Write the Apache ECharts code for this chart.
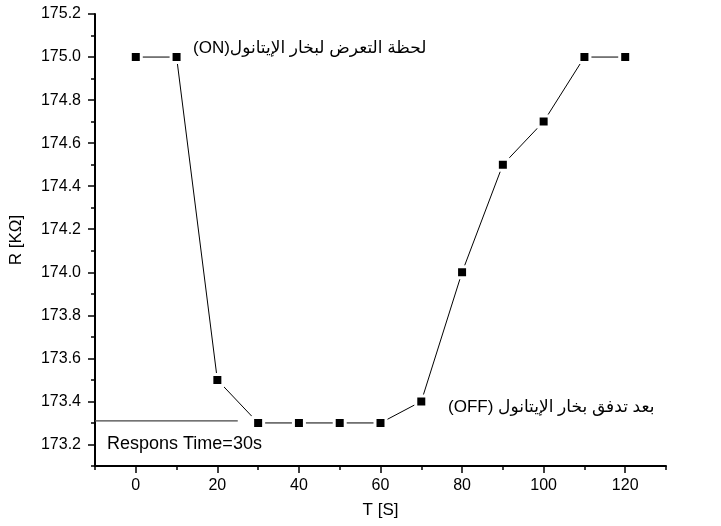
<!DOCTYPE html>
<html>
<head>
<meta charset="utf-8">
<script src="https://cdn.jsdelivr.net/npm/echarts@6/dist/echarts.min.js"></script>
<style>
html,body{margin:0;padding:0;background:#fff;}
#chart{width:721px;height:526px;}
</style>
</head>
<body>
<div id="chart"></div>
<script type="text/javascript">
// data
var timeS = [0, 10, 20, 30, 40, 50, 60, 70, 80, 90, 100, 110, 120];
var resistK = [175.0, 175.0, 173.5, 173.3, 173.3, 173.3, 173.3, 173.4, 174.0, 174.5, 174.7, 175.0, 175.0];
var respLineX = [-10, 25];
var respLineY = [173.31, 173.31];
var xTicks = [0, 20, 40, 60, 80, 100, 120];
var xMinor = [-10, 10, 30, 50, 70, 90, 110, 130];
var yTicks = [173.2, 173.4, 173.6, 173.8, 174.0, 174.2, 174.4, 174.6, 174.8, 175.0, 175.2];
var yMinor = [173.1, 173.3, 173.5, 173.7, 173.9, 174.1, 174.3, 174.5, 174.7, 174.9, 175.1];

var font = '"Liberation Sans", Arial, "DejaVu Sans", sans-serif';

function pairs(xs, ys) {
    var out = [];
    for (var i = 0; i < xs.length; i++) out.push([xs[i], ys[i]]);
    return out;
}

var chart = echarts.init(document.getElementById('chart'));

var axisLine = {show: true, onZero: false, lineStyle: {color: '#000', width: 2}};

var option = {
    animation: false,
    backgroundColor: '#fff',
    grid: {left: 95, right: 55, top: 14, bottom: 60},
    xAxis: [
        {
            type: 'value', min: -10, max: 130,
            name: 'T [S]', nameLocation: 'middle', nameGap: 36,
            nameTextStyle: {color: '#000', fontSize: 17, fontFamily: font},
            axisLine: axisLine,
            axisTick: {show: true, inside: false, length: 7, customValues: xTicks, lineStyle: {color: '#000', width: 1.5}},
            axisLabel: {show: true, margin: 12, customValues: xTicks, color: '#000', fontSize: 16, fontFamily: font},
            splitLine: {show: false}
        },
        {
            type: 'value', min: -10, max: 130, position: 'bottom',
            axisLine: {show: false, onZero: false},
            axisTick: {show: true, length: 4, customValues: xMinor, lineStyle: {color: '#000', width: 1.5}},
            axisLabel: {show: false},
            splitLine: {show: false}
        }
    ],
    yAxis: [
        {
            type: 'value', min: 173.1, max: 175.2,
            name: 'R [K\u03A9]', nameLocation: 'middle', nameGap: 70,
            nameTextStyle: {color: '#000', fontSize: 17, fontFamily: font},
            axisLine: axisLine,
            axisTick: {show: true, length: 7, customValues: yTicks, lineStyle: {color: '#000', width: 1.5}},
            axisLabel: {
                show: true, margin: 14, customValues: yTicks, color: '#000', fontSize: 16, fontFamily: font,
                formatter: function (v) { return v.toFixed(1); }
            },
            splitLine: {show: false}
        },
        {
            type: 'value', min: 173.1, max: 175.2, position: 'left',
            axisLine: {show: false, onZero: false},
            axisTick: {show: true, length: 4, customValues: yMinor, lineStyle: {color: '#000', width: 1.5}},
            axisLabel: {show: false},
            splitLine: {show: false}
        }
    ],
    series: [
        {
            type: 'line',
            data: pairs(respLineX, respLineY),
            showSymbol: false,
            symbol: 'none',
            lineStyle: {color: '#444', width: 1.2},
            silent: true
        },
        {
            type: 'line',
            data: pairs(timeS, resistK),
            symbol: 'rect',
            symbolSize: 11,
            itemStyle: {color: '#000', borderColor: '#fff', borderWidth: 3},
            lineStyle: {color: '#000', width: 1},
            z: 3
        }
    ],
    graphic: [
        {
            type: 'text', left: 193, top: 40,
            style: {text: '(ON)لحظة التعرض لبخار الإيتانول', fill: '#000', font: '17px ' + font}
        },
        {
            type: 'text', left: 448, top: 399,
            style: {text: '(OFF) بعد تدفق بخار الإيتانول', fill: '#000', font: '17px ' + font}
        },
        {
            type: 'text', left: 107, top: 435,
            style: {text: 'Respons Time=30s', fill: '#000', font: '18px ' + font}
        }
    ]
};

chart.setOption(option);
window.onresize = chart.resize;
</script>
</body>
</html>
